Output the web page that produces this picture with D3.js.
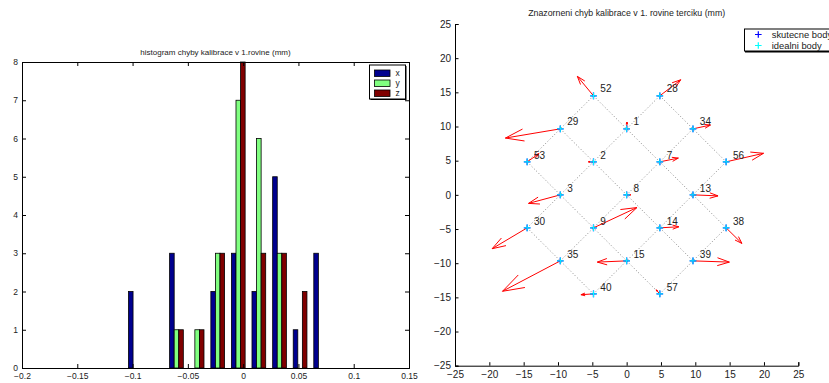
<!DOCTYPE html>
<html>
<head>
<meta charset="utf-8">
<script src="https://cdn.jsdelivr.net/npm/d3@7"></script>
<style>
  html, body { margin: 0; padding: 0; background: #fff; }
  svg { display: block; font-family: "Liberation Sans", Arial, Helvetica, sans-serif; }
</style>
</head>
<body>
<svg id="fig" width="829" height="383"></svg>
<script>
// ---- histogram of calibration errors (mm) ----
const binCenters = [-0.0975, -0.0789, -0.0603, -0.0416, -0.0230, -0.0044, 0.0142, 0.0329, 0.0515, 0.0701];
const countsX = [2, 0, 3, 0, 2, 3, 2, 5, 1, 3];
const countsY = [0, 0, 1, 1, 3, 7, 6, 3, 0, 0];
const countsZ = [0, 0, 1, 1, 3, 8, 3, 3, 2, 0];
const histSeries = ["x", "y", "z"];
const histColors = ["#00008f", "#80ff80", "#800000"];
const histXTicks = [-0.2, -0.15, -0.1, -0.05, 0, 0.05, 0.1, 0.15];
const histYTicks = [0, 1, 2, 3, 4, 5, 6, 7, 8];

// ---- target plane: ideal point grid and error vectors ----
const pointIds = [52, 28, 29, 1, 34, 53, 2, 7, 56, 3, 8, 13, 30, 9, 14, 38, 35, 15, 39, 40, 57];
const idealX = [-4.83, 4.83, -9.66, 0, 9.66, -14.49, -4.83, 4.83, 14.49, -9.66, 0, 9.66, -14.49, -4.83, 4.83, 14.49, -9.66, 0, 9.66, -4.83, 4.83];
const idealY = [14.49, 14.49, 9.66, 9.66, 9.66, 4.83, 4.83, 4.83, 4.83, 0, 0, 0, -4.83, -4.83, -4.83, -4.83, -9.66, -9.66, -9.66, -14.49, -14.49];
const errU = [-2.35, 3.05, -8.0, 0.05, 2.55, 1.72, -0.75, 2.7, 5.45, -4.63, 0.6, 3.65, -5.1, 6.33, 2.78, 2.3, -8.42, -4.27, 5.3, -1.83, -0.53];
const errV = [2.85, 2.35, -1.35, 1.0, 0.55, 1.2, 0, 0.55, 1.25, -1.25, 0, -0.15, -3.05, 2.97, 0.16, -2.28, -4.45, -0.18, -0.18, -0.12, 0.59];
const gridRows = [[28, 34, 56], [52, 1, 7, 13, 38], [29, 2, 8, 14, 39], [53, 3, 9, 15, 57], [30, 35, 40]];
const gridCols = [[53, 29, 52], [30, 3, 2, 1, 28], [35, 9, 8, 7, 34], [40, 15, 14, 13, 56], [57, 39, 38]];
const planeTicks = [-25, -20, -15, -10, -5, 0, 5, 10, 15, 20, 25];
const legendLabels = ["skutecne body", "idealni body"];
const markerColors = ["#0000ff", "#00ffff"];

const svg = d3.select("#fig");
const fmt = d3.format("");

// ===================== left: grouped histogram =====================
(function () {
  const L = 22, R = 409, T = 62, B = 368;
  const x = d3.scaleLinear().domain([-0.2, 0.15]).range([L, R]);
  const y = d3.scaleLinear().domain([0, 8]).range([B, T]);
  const g = svg.append("g");

  g.append("text").attr("x", (L + R) / 2).attr("y", 55).attr("text-anchor", "middle")
    .attr("font-size", 8).attr("fill", "#222").text("histogram chyby kalibrace v 1.rovine (mm)");

  const spacing = binCenters[1] - binCenters[0];
  const groupW = spacing * 2 / 3;
  const barW = groupW / 3;
  const series = [countsX, countsY, countsZ];
  series.forEach((counts, si) => {
    g.append("g").selectAll("rect")
      .data(binCenters.map((c, i) => ({ c, v: counts[i] })).filter(d => d.v > 0))
      .join("rect")
      .attr("x", d => x(d.c - groupW / 2 + si * barW))
      .attr("width", d => x(d.c + barW) - x(d.c))
      .attr("y", d => y(d.v))
      .attr("height", d => y(0) - y(d.v))
      .attr("fill", histColors[si])
      .attr("stroke", "#000").attr("stroke-width", 0.8);
  });

  // axes box with inward ticks on all sides
  const tl = 4;
  const bottom = d3.axisBottom(x).tickValues(histXTicks).tickSize(-tl).tickPadding(5).tickFormat(fmt);
  const top = d3.axisTop(x).tickValues(histXTicks).tickSize(-tl).tickFormat("");
  const left = d3.axisLeft(y).tickValues(histYTicks).tickSize(-tl).tickPadding(4).tickFormat(fmt);
  const right = d3.axisRight(y).tickValues(histYTicks).tickSize(-tl).tickFormat("");
  const ax = [
    g.append("g").attr("transform", `translate(0,${B})`).call(bottom),
    g.append("g").attr("transform", `translate(0,${T})`).call(top),
    g.append("g").attr("transform", `translate(${L},0)`).call(left),
    g.append("g").attr("transform", `translate(${R},0)`).call(right)
  ];
  ax.forEach(a => {
    a.select(".domain").attr("stroke", "#000").attr("stroke-width", 1);
    a.selectAll(".tick line").attr("stroke", "#000");
    a.selectAll("text").attr("font-size", 8.5).attr("fill", "#222").attr("font-family", null);
  });

  // legend
  const lg = g.append("g");
  lg.append("rect").attr("x", 370.5).attr("y", 66).attr("width", 36).attr("height", 34)
    .attr("fill", "#000");
  lg.append("rect").attr("x", 369.5).attr("y", 65).attr("width", 36).attr("height", 34)
    .attr("fill", "#fff").attr("stroke", "#000").attr("stroke-width", 1);
  histSeries.forEach((s, i) => {
    lg.append("rect").attr("x", 374.5).attr("y", 70 + i * 10).attr("width", 15.5).attr("height", 6.5)
      .attr("fill", histColors[i]).attr("stroke", "#000").attr("stroke-width", 0.8);
    lg.append("text").attr("x", 395.5).attr("y", 73.3 + i * 10).attr("dy", "0.35em")
      .attr("font-size", 8.5).attr("fill", "#222").text(s);
  });
})();

// ===================== right: error vectors on the target plane =====================
(function () {
  const L = 455, R = 798.3, T = 24, B = 365.7;
  const x = d3.scaleLinear().domain([-25, 25]).range([L, R]);
  const y = d3.scaleLinear().domain([-25, 25]).range([B, T]);
  const g = svg.append("g");

  g.append("text").attr("x", 626.7).attr("y", 15.5).attr("text-anchor", "middle")
    .attr("font-size", 8.8).attr("fill", "#222").text("Znazorneni chyb kalibrace v 1. rovine terciku (mm)");

  const idx = new Map(pointIds.map((id, i) => [id, i]));
  const line = d3.line().x(i => x(idealX[i])).y(i => y(idealY[i]));

  // dotted grid connecting neighbouring target points
  g.append("g").selectAll("path")
    .data(gridRows.concat(gridCols).map(r => r.map(id => idx.get(id))))
    .join("path")
    .attr("d", line)
    .attr("fill", "none").attr("stroke", "#8a8a8a").attr("stroke-width", 1)
    .attr("stroke-dasharray", "1,2.2");

  // quiver arrows (head length 0.33, half-spread 0.33)
  const alpha = 0.33, beta = 0.33;
  const arrows = pointIds.map((id, i) => {
    const x0 = idealX[i], y0 = idealY[i], u = errU[i], v = errV[i];
    const tx = x0 + u, ty = y0 + v;
    return {
      shaft: [[x0, y0], [tx, ty]],
      head: [
        [tx - alpha * (u + beta * v), ty - alpha * (v - beta * u)],
        [tx, ty],
        [tx - alpha * (u - beta * v), ty - alpha * (v + beta * u)]
      ]
    };
  });
  const pl = d3.line().x(d => x(d[0])).y(d => y(d[1]));
  const qg = g.append("g").attr("fill", "none").attr("stroke", "#ff0000").attr("stroke-width", 1);
  qg.selectAll("path.shaft").data(arrows).join("path").attr("class", "shaft").attr("d", d => pl(d.shaft));
  qg.selectAll("path.head").data(arrows).join("path").attr("class", "head").attr("d", d => pl(d.head));

  // '+' markers: measured (blue) and ideal (cyan)
  const plus = (cx, cy, s) => `M${cx - s},${cy}H${cx + s}M${cx},${cy - s}V${cy + s}`;
  markerColors.forEach((c, k) => {
    g.append("g").selectAll("path").data(pointIds.map((_, i) => i)).join("path")
      .attr("d", i => plus(x(idealX[i]), y(idealY[i]), 3.3))
      .attr("stroke", c).attr("stroke-width", k === 0 ? 1.3 : 1).attr("fill", "none");
  });

  // point numbers
  g.append("g").selectAll("text").data(pointIds.map((id, i) => ({ id, i }))).join("text")
    .attr("x", d => x(idealX[d.i] + 1))
    .attr("y", d => y(idealY[d.i] + 1))
    .attr("dy", "0.35em")
    .attr("font-size", 10).attr("fill", "#222")
    .text(d => d.id);

  // left and bottom axes with inward ticks
  const tl = 3.5;
  const ax = [
    g.append("g").attr("transform", `translate(0,${B})`)
      .call(d3.axisBottom(x).tickValues(planeTicks).tickSize(-tl).tickPadding(5).tickFormat(fmt)),
    g.append("g").attr("transform", `translate(${L},0)`)
      .call(d3.axisLeft(y).tickValues(planeTicks).tickSize(-tl).tickPadding(4).tickFormat(fmt))
  ];
  ax.forEach(a => {
    a.select(".domain").attr("stroke", "#000").attr("stroke-width", 1);
    a.selectAll(".tick line").attr("stroke", "#000");
    a.selectAll("text").attr("font-size", 10).attr("fill", "#222").attr("font-family", null);
  });

  // legend
  const lg = g.append("g");
  lg.append("rect").attr("x", 745).attr("y", 30).attr("width", 100).attr("height", 22.5).attr("fill", "#000");
  lg.append("rect").attr("x", 744.5).attr("y", 29).attr("width", 100).attr("height", 22)
    .attr("fill", "#fff").attr("stroke", "#000").attr("stroke-width", 1);
  legendLabels.forEach((t, k) => {
    const cy = 34.5 + k * 11;
    lg.append("path").attr("d", plus(758.3, cy, 3.3)).attr("stroke", markerColors[k]).attr("stroke-width", 1.2);
    lg.append("text").attr("x", 771.7).attr("y", cy).attr("dy", "0.35em")
      .attr("font-size", 9.4).attr("fill", "#222").text(t);
  });
})();
</script>
</body>
</html>
